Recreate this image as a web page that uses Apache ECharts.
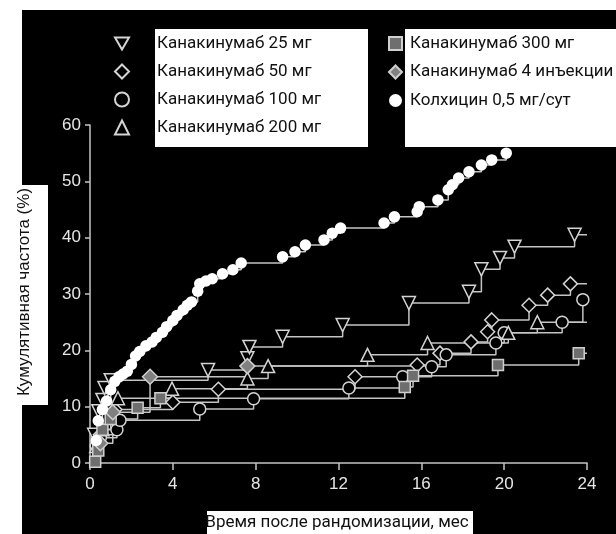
<!DOCTYPE html>
<html>
<head>
<meta charset="utf-8">
<script src="https://cdn.jsdelivr.net/npm/echarts@6/dist/echarts.min.js"></script>
<style>
  html, body { margin: 0; padding: 0; background: #fff; }
  #main { width: 616px; height: 534px; }
</style>
</head>
<body>
<div id="main"></div>
<script>
// months after randomisation, cumulative frequency (%)
// last point of each array = end of follow-up (drawn without a marker)
const xTicks = [0, 4, 8, 12, 16, 20, 24]
const yTicks = [0, 10, 20, 30, 40, 50, 60]

const dose25 = [[0.2, 5], [0.4, 9.2], [0.6, 11.2], [0.7, 13.3], [1.0, 14.7], [5.7, 16.5], [7.6, 18.6], [7.7, 20.6], [9.3, 22.4], [12.2, 24.5], [15.4, 28.4], [18.3, 30.4], [18.9, 34.4], [19.8, 36.4], [20.5, 38.4], [23.4, 40.5], [24, 40.5]]
const dose50 = [[0.5, 5], [1.2, 9.5], [4.0, 10.8], [6.2, 13.1], [12.8, 15.3], [15.8, 17.4], [16.9, 19.5], [18.4, 21.5], [19.2, 23.3], [19.4, 25.4], [21.2, 28], [22.1, 29.8], [23.2, 31.8], [24, 31.8]]
const dose100 = [[0.3, 3], [0.5, 4.5], [1.3, 5.9], [1.45, 7.6], [5.3, 9.6], [7.9, 11.4], [12.5, 13.3], [15.1, 15.3], [16.5, 17.1], [17.2, 19.2], [19.6, 21.3], [20.0, 23.1], [22.8, 25.0], [23.8, 29.0], [24, 29.0]]
const dose200 = [[0.3, 3], [0.6, 6], [1.35, 11.5], [3.96, 13.2], [7.6, 15], [8.6, 17.2], [13.4, 19.2], [16.3, 21.3], [20.2, 23.1], [21.6, 25.0], [24, 25.0]]
const dose300 = [[0.25, 0.2], [0.4, 2.2], [0.6, 5.9], [1.0, 7.8], [2.3, 9.8], [3.4, 11.5], [15.2, 13.5], [15.6, 15.5], [19.7, 17.4], [23.6, 19.5], [24, 19.5]]
const inj4 = [[0.5, 3.5], [1.1, 9], [2.9, 15.3], [7.6, 17.2], [16.5, 17.2]]
const colch = [[0.3, 4], [0.4, 7.5], [0.6, 9.5], [0.8, 11], [1.0, 13], [1.2, 14.5], [1.4, 15.3], [1.6, 15.8], [1.8, 16.3], [2.0, 17.5], [2.2, 19], [2.4, 19.8], [2.7, 20.8], [3.0, 21.5], [3.2, 22.3], [3.5, 23.2], [3.7, 24.2], [4.0, 25.3], [4.2, 26.2], [4.5, 27.2], [4.7, 28], [4.9, 28.6], [5.2, 30.5], [5.3, 31.8], [5.6, 32.3], [5.9, 32.7], [6.4, 33.6], [6.9, 34.3], [7.3, 35.5], [9.3, 36.6], [9.9, 37.5], [10.4, 38.7], [11.3, 39.6], [11.7, 40.8], [12.1, 41.7], [14.2, 42.6], [14.7, 43.7], [15.8, 44.6], [15.9, 45.5], [16.8, 46.7], [17.3, 48.5], [17.5, 49.4], [17.8, 50.6], [18.3, 51.7], [18.9, 52.9], [19.4, 53.8], [20.1, 55.0]]

const names = ['Канакинумаб 25 мг', 'Канакинумаб 50 мг', 'Канакинумаб 100 мг', 'Канакинумаб 200 мг',
  'Канакинумаб 300 мг', 'Канакинумаб 4 инъекции', 'Колхицин 0,5 мг/сут']

const TRI_DOWN = 'path://M0,0L10,0L5,8.66Z'
const LINE = '#c4c4c4'

function mk(name, pts, symbol, size, fill, border, lastIsEnd) {
  return {
    name: name,
    type: 'line',
    step: 'end',
    symbol: symbol,
    symbolSize: size,
    showAllSymbol: true,
    lineStyle: { color: LINE, width: 1.5 },
    itemStyle: { color: fill, borderColor: border, borderWidth: border ? 1.5 : 0 },
    emphasis: { disabled: true },
    data: pts.map((p, i) => (lastIsEnd && i === pts.length - 1) ? { value: p, symbol: 'none' } : p),
  }
}

const series = [
  mk(names[0], dose25, TRI_DOWN, 13, '#000', '#d4d4d4', true),
  mk(names[1], dose50, 'diamond', 14, '#000', '#d4d4d4', true),
  mk(names[2], dose100, 'circle', 12, '#000', '#d4d4d4', true),
  mk(names[3], dose200, 'triangle', 13, '#000', '#d4d4d4', true),
  mk(names[4], dose300, 'rect', 11, '#6e6e6e', '#cfcfcf', true),
  mk(names[5], inj4, 'diamond', 15, '#808080', '#cfcfcf', true),
  mk(names[6], colch, 'circle', 11.5, '#fff', null, false),
]
series[6].z = 3

const legendIcons = [TRI_DOWN, 'diamond', 'circle', 'triangle', 'rect', 'diamond', 'circle']
const legendFont = { color: '#111', fontSize: 17, fontFamily: 'Roboto', lineHeight: 14 }

const myChart = echarts.init(document.getElementById('main'))
const option = {
  animation: false,
  backgroundColor: '#fff',
  grid: { left: 90, right: 29, top: 125, bottom: 71, containLabel: false },
  xAxis: {
    type: 'value', min: 0, max: 24, interval: 4,
    axisLine: { show: true, lineStyle: { color: LINE, width: 1.5 } },
    axisTick: { show: true, length: 7, lineStyle: { color: LINE, width: 1.5 } },
    axisLabel: { color: '#e6e6e6', fontSize: 17, fontFamily: 'Liberation Sans', margin: 13,
      formatter: v => xTicks.includes(v) ? String(v) : '' },
    splitLine: { show: false },
  },
  yAxis: {
    type: 'value', min: 0, max: 60, interval: 10,
    axisLine: { show: true, lineStyle: { color: LINE, width: 1.5 } },
    axisTick: { show: true, length: 5, lineStyle: { color: LINE, width: 1.5 } },
    axisLabel: { color: '#e6e6e6', fontSize: 17, fontFamily: 'Liberation Sans', margin: 9,
      formatter: v => yTicks.includes(v) ? String(v) : '' },
    splitLine: { show: false },
  },
  legend: [
    {
      left: 109, top: 30, orient: 'vertical', itemWidth: 14, itemHeight: 14, itemGap: 11,
      selectedMode: false, z: 50,
      textStyle: Object.assign({ padding: [0, 0, 0, 23] }, legendFont),
      data: names.slice(0, 4).map((n, i) => ({ name: n, icon: legendIcons[i] })),
    },
    {
      left: 383, top: 30, orient: 'vertical', itemWidth: 13, itemHeight: 13, itemGap: 11.5,
      selectedMode: false, z: 50,
      textStyle: Object.assign({ padding: [0, 0, 0, 3] }, legendFont),
      data: names.slice(4).map((n, i) => ({ name: n, icon: legendIcons[i + 4] })),
    },
  ],
  graphic: [
    { type: 'rect', z: -10, silent: true, shape: { x: 22, y: 10, width: 594, height: 524 }, style: { fill: '#000' } },
    { type: 'rect', z: 40, silent: true, shape: { x: 155, y: 29, width: 213, height: 118 }, style: { fill: '#fff' } },
    { type: 'rect', z: 40, silent: true, shape: { x: 405, y: 29, width: 211, height: 118 }, style: { fill: '#fff' } },
    { type: 'rect', z: 40, silent: true, shape: { x: 0, y: 185, width: 48, height: 220 }, style: { fill: '#fff' } },
    { type: 'rect', z: 40, silent: true, shape: { x: 207, y: 511, width: 266, height: 23 }, style: { fill: '#fff' } },
    {
      type: 'text', z: 45, x: 24, y: 292, rotation: Math.PI / 2, silent: true,
      style: { text: 'Кумулятивная частота (%)', fill: '#111', font: '17px "Liberation Sans"', align: 'center', verticalAlign: 'middle' },
    },
    {
      type: 'text', z: 45, x: 337, y: 523, silent: true,
      style: { text: 'Время после рандомизации, мес', fill: '#111', font: '17px Roboto', align: 'center', verticalAlign: 'middle' },
    },
  ],
  series: series,
}
option && myChart.setOption(option)
</script>
</body>
</html>
